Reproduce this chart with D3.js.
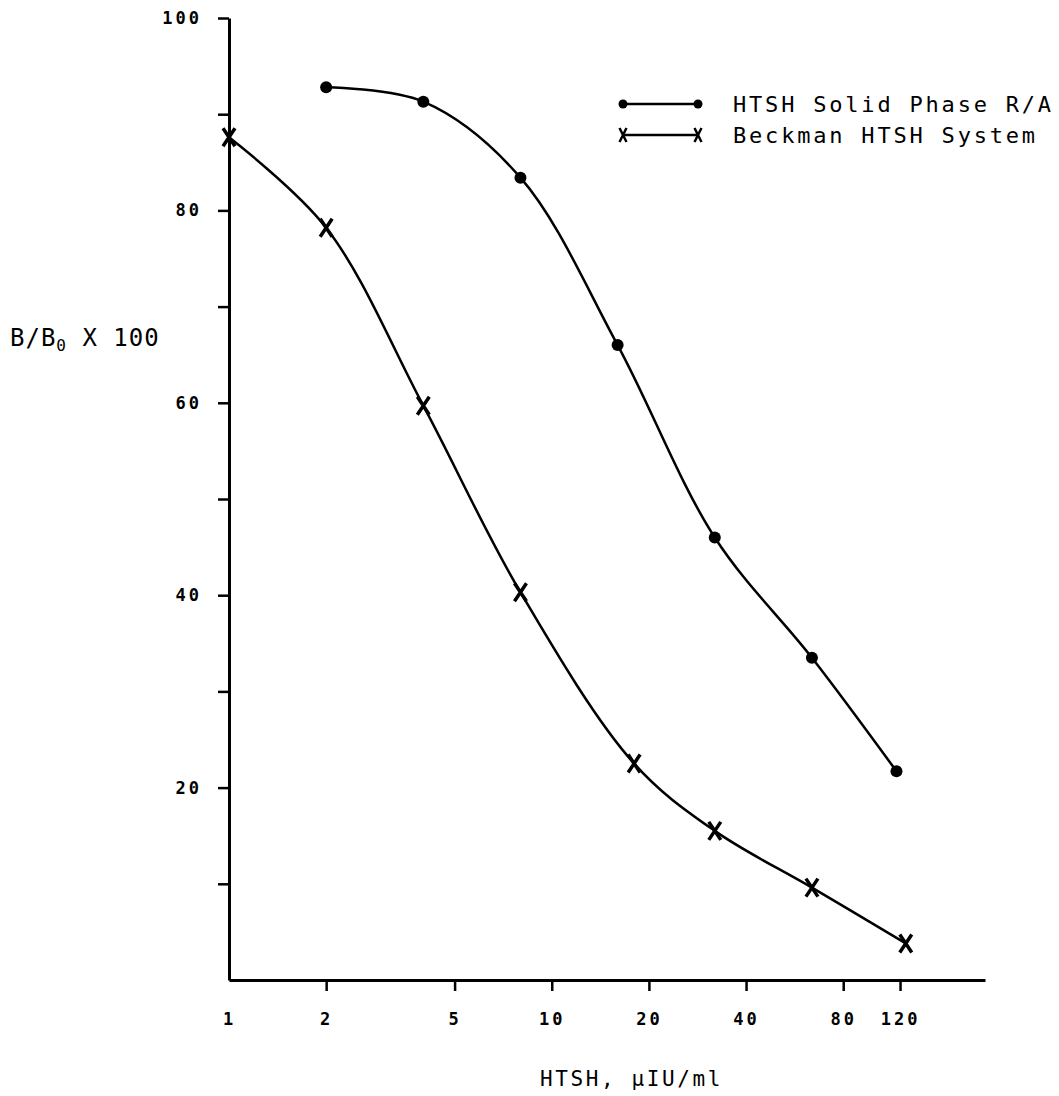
<!DOCTYPE html>
<html>
<head>
<meta charset="utf-8">
<script src="https://cdn.jsdelivr.net/npm/d3@7"></script>
<style>
  body { margin: 0; background: #fff; }
  svg text { font-family: "DejaVu Sans Mono", monospace; fill: #000; }
</style>
</head>
<body>
<div class="container"></div>
<script>
// HTSH concentration (uIU/ml) and B/B0 x 100
const solidConc = [2, 4, 8, 16, 32, 64, 117];
const solidValues = [92.8, 91.3, 83.4, 66.0, 46.0, 33.5, 21.7];
const beckmanConc = [1, 2, 4, 8, 18, 32, 64, 125];
const beckmanValues = [87.6, 78.2, 59.7, 40.3, 22.5, 15.5, 9.6, 3.8];

const xTicks = [1, 2, 5, 10, 20, 40, 80, 120];
const yTicks = [10, 20, 30, 40, 50, 60, 70, 80, 90, 100];
const yLabelled = [20, 40, 60, 80, 100];
const legendNames = ['HTSH Solid Phase R/A', 'Beckman HTSH System'];

const W = 1059, H = 1096;

const svg = d3.select('.container')
  .append('svg')
  .attr('width', W)
  .attr('height', H);

// log scale on x, 1 sits on the y axis
const x = d3.scaleLog().domain([1, 220]).range([229, 985]);
const y = d3.scaleLinear().domain([0, 100]).range([980, 18]);

//axes
const xAxis = svg.append('g')
  .attr('transform', `translate(0,${y(0)})`)
  .call(d3.axisBottom(x)
    .tickValues(xTicks)
    .tickFormat(d3.format('d'))
    .tickSize(11)
    .tickSizeOuter(0)
    .tickPadding(22));
xAxis.select('.domain').attr('stroke-width', 3);
xAxis.selectAll('.tick line').attr('stroke-width', 2.5)
  .attr('opacity', d => d === 1 ? 0 : 1);
xAxis.selectAll('.tick text')
  .style('font-family', '"DejaVu Sans Mono", monospace')
  .style('font-weight', 'bold')
  .style('font-size', '17px')
  .style('letter-spacing', '3px');

const yAxis = svg.append('g')
  .attr('transform', `translate(${x(1)},0)`)
  .call(d3.axisLeft(y)
    .tickValues(yTicks)
    .tickFormat(d => yLabelled.includes(d) ? d : '')
    .tickSize(11)
    .tickSizeOuter(0)
    .tickPadding(16));
yAxis.select('.domain').attr('stroke-width', 3);
yAxis.selectAll('.tick line').attr('stroke-width', 2.5);
yAxis.selectAll('.tick text')
  .style('font-family', '"DejaVu Sans Mono", monospace')
  .style('font-weight', 'bold')
  .style('font-size', '17px')
  .style('letter-spacing', '3px');

//axis titles
const yTitle = svg.append('text')
  .attr('x', 10)
  .attr('y', 346)
  .style('font-size', '24px')
  .style('letter-spacing', '1px');
yTitle.append('tspan').text('B/B');
yTitle.append('tspan').text('0').style('font-size', '16px').attr('dy', 5);
yTitle.append('tspan').text(' X 100').attr('dy', -5);

svg.append('text')
  .attr('x', 540)
  .attr('y', 1086)
  .style('font-size', '21px')
  .style('letter-spacing', '2.6px')
  .text('HTSH, \u00b5IU/ml');

//curves
const line = d3.line()
  .x(d => x(d[0]))
  .y(d => y(d[1]))
  .curve(d3.curveCatmullRom.alpha(0.5));

const solid = solidConc.map((c, i) => [c, solidValues[i]]);
const beckman = beckmanConc.map((c, i) => [c, beckmanValues[i]]);

svg.append('path')
  .attr('d', line(solid))
  .attr('fill', 'none')
  .attr('stroke', '#000')
  .attr('stroke-width', 2.5);

svg.append('path')
  .attr('d', line(beckman))
  .attr('fill', 'none')
  .attr('stroke', '#000')
  .attr('stroke-width', 2.5);

function starPath(w, h) {
  return `M${-w},${-h}L${w},${h}M${w},${-h}L${-w},${h}`;
}

svg.selectAll('.dot')
  .data(solid)
  .join('circle')
  .attr('class', 'dot')
  .attr('cx', d => x(d[0]))
  .attr('cy', d => y(d[1]))
  .attr('r', 6)
  .attr('fill', '#000');

svg.selectAll('.star')
  .data(beckman)
  .join('path')
  .attr('class', 'star')
  .attr('transform', d => `translate(${x(d[0])},${y(d[1])})`)
  .attr('d', starPath(6, 9))
  .attr('stroke', '#000')
  .attr('stroke-width', 3.5);

//legend
const legend = svg.append('g');
const lgY = [104, 135];
legendNames.forEach((name, i) => {
  legend.append('line')
    .attr('x1', 623).attr('x2', 698)
    .attr('y1', lgY[i]).attr('y2', lgY[i])
    .attr('stroke', '#000')
    .attr('stroke-width', 2.5);
  [623, 698].forEach(px => {
    if (i === 0) {
      legend.append('circle')
        .attr('cx', px).attr('cy', lgY[i]).attr('r', 4.5)
        .attr('fill', '#000');
    } else {
      legend.append('path')
        .attr('transform', `translate(${px},${lgY[i]})`)
        .attr('d', starPath(3.5, 7))
        .attr('stroke', '#000')
        .attr('stroke-width', 2.5);
    }
  });
  legend.append('text')
    .attr('x', 733)
    .attr('y', lgY[i] + 8)
    .style('font-size', '22px')
    .style('letter-spacing', '2.8px')
    .text(name);
});
</script>
</body>
</html>
